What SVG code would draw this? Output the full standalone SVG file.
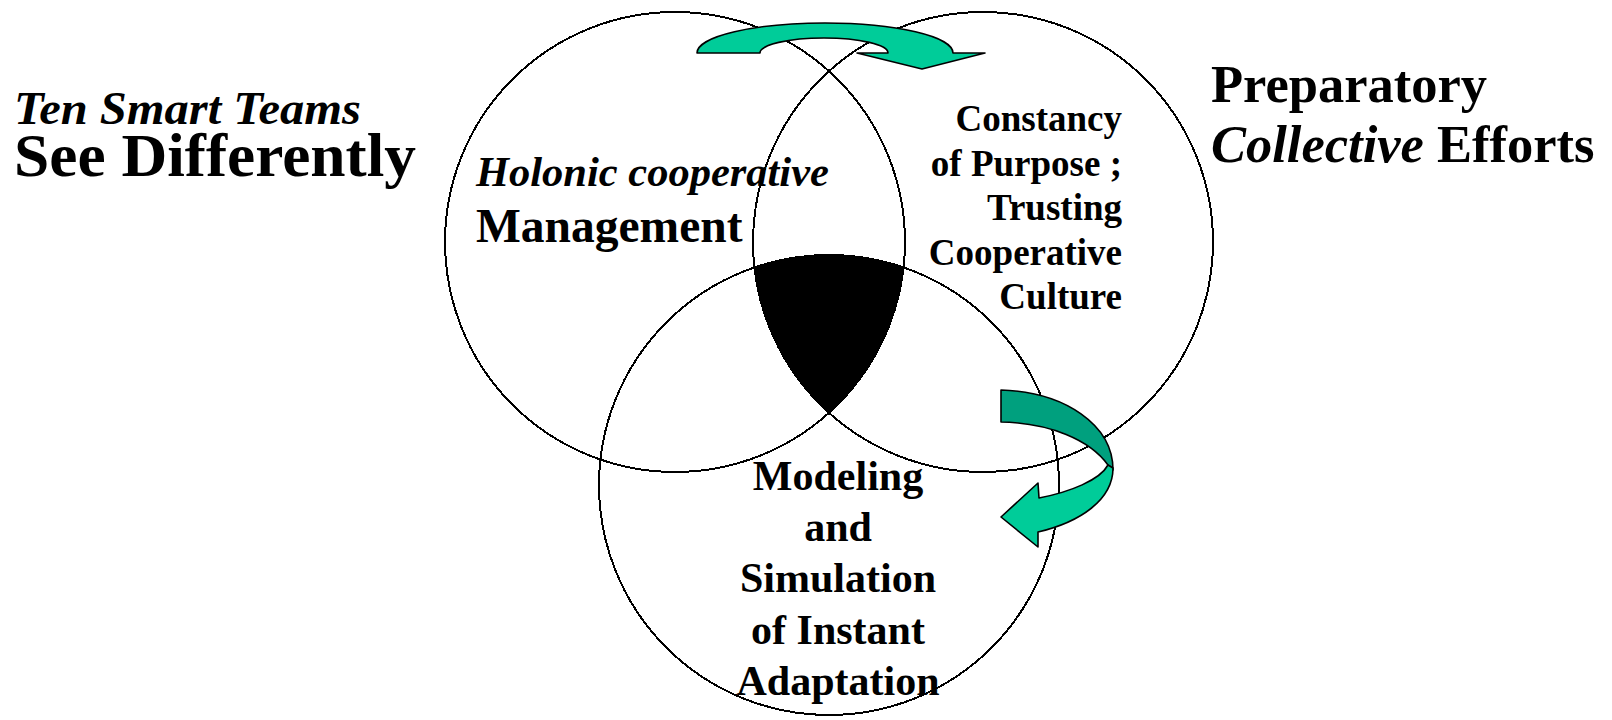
<svg xmlns="http://www.w3.org/2000/svg" width="1612" height="720" viewBox="0 0 1612 720">
<style>
.circ{fill:none;stroke:#000;stroke-width:2;shape-rendering:crispEdges}
.t{font-family:"Liberation Serif","Times New Roman",serif;font-weight:bold;fill:#000}
.i{font-style:italic}
.arL{fill:#00CC99;stroke:#000;stroke-width:1.6;stroke-linejoin:round}
.arD{fill:#00A07E;stroke:#000;stroke-width:1.6;stroke-linejoin:round}
</style>
<rect width="1612" height="720" fill="#fff"/>
<g id="node-management">
<circle class="circ" cx="675" cy="242" r="230"/>
</g>
<g id="node-preparatory">
<circle class="circ" cx="983" cy="242" r="230"/>
</g>
<g id="node-modeling">
<circle class="circ" cx="829" cy="485" r="230"/>
</g>
<g id="node-core">
<path d="M754.4,267.4 A230,230 0 0 1 903.6,267.4 A230,230 0 0 1 829,412.8 A230,230 0 0 1 754.4,267.4 Z" fill="#000" shape-rendering="crispEdges"/>
</g>
<g id="connectors">
<path class="arL" d="M697,53 A128,30 0 0 1 953,53 L985,53 L922,69 L857,53 L888,53 A64,15 0 0 0 760,53 Z"/>
<path class="arD" d="M1001,390 C1065,392 1113,425 1113,470 C1112,468 1110,466 1108,465 C1090,440 1050,423 1001,422 Z"/>
<path class="arL" d="M1113,468 C1113,500 1080,522 1038,532 L1038,547 L1001,517 L1038,483 L1039,498 C1070,492 1100,480 1108,465 Z"/>
</g>
<g id="label-left">
<text class="t i" x="14" y="124" font-size="47" textLength="347" lengthAdjust="spacingAndGlyphs">Ten Smart Teams</text>
<text class="t" x="14" y="176" font-size="62" textLength="402" lengthAdjust="spacingAndGlyphs">See Differently</text>
</g>
<g id="label-right">
<text class="t" x="1211" y="102" font-size="52.5">Preparatory</text>
<text class="t" x="1211" y="162" font-size="52.5"><tspan class="i">Collective</tspan> Efforts</text>
</g>
<g id="text-management">
<text class="t i" x="476" y="186" font-size="42.5">Holonic cooperative</text>
<text class="t" x="476" y="242" font-size="47.5">Management</text>
</g>
<g id="text-preparatory" text-anchor="end">
<text class="t" x="1122" y="131" font-size="37">Constancy</text>
<text class="t" x="1122" y="176" font-size="37">of Purpose ;</text>
<text class="t" x="1122" y="220" font-size="37">Trusting</text>
<text class="t" x="1122" y="265" font-size="37">Cooperative</text>
<text class="t" x="1122" y="309" font-size="37">Culture</text>
</g>
<g id="text-modeling" text-anchor="middle">
<text class="t" x="838" y="490" font-size="42">Modeling</text>
<text class="t" x="838" y="541" font-size="42">and</text>
<text class="t" x="838" y="592" font-size="42">Simulation</text>
<text class="t" x="838" y="644" font-size="42">of Instant</text>
<text class="t" x="838" y="695" font-size="42">Adaptation</text>
</g>
</svg>
